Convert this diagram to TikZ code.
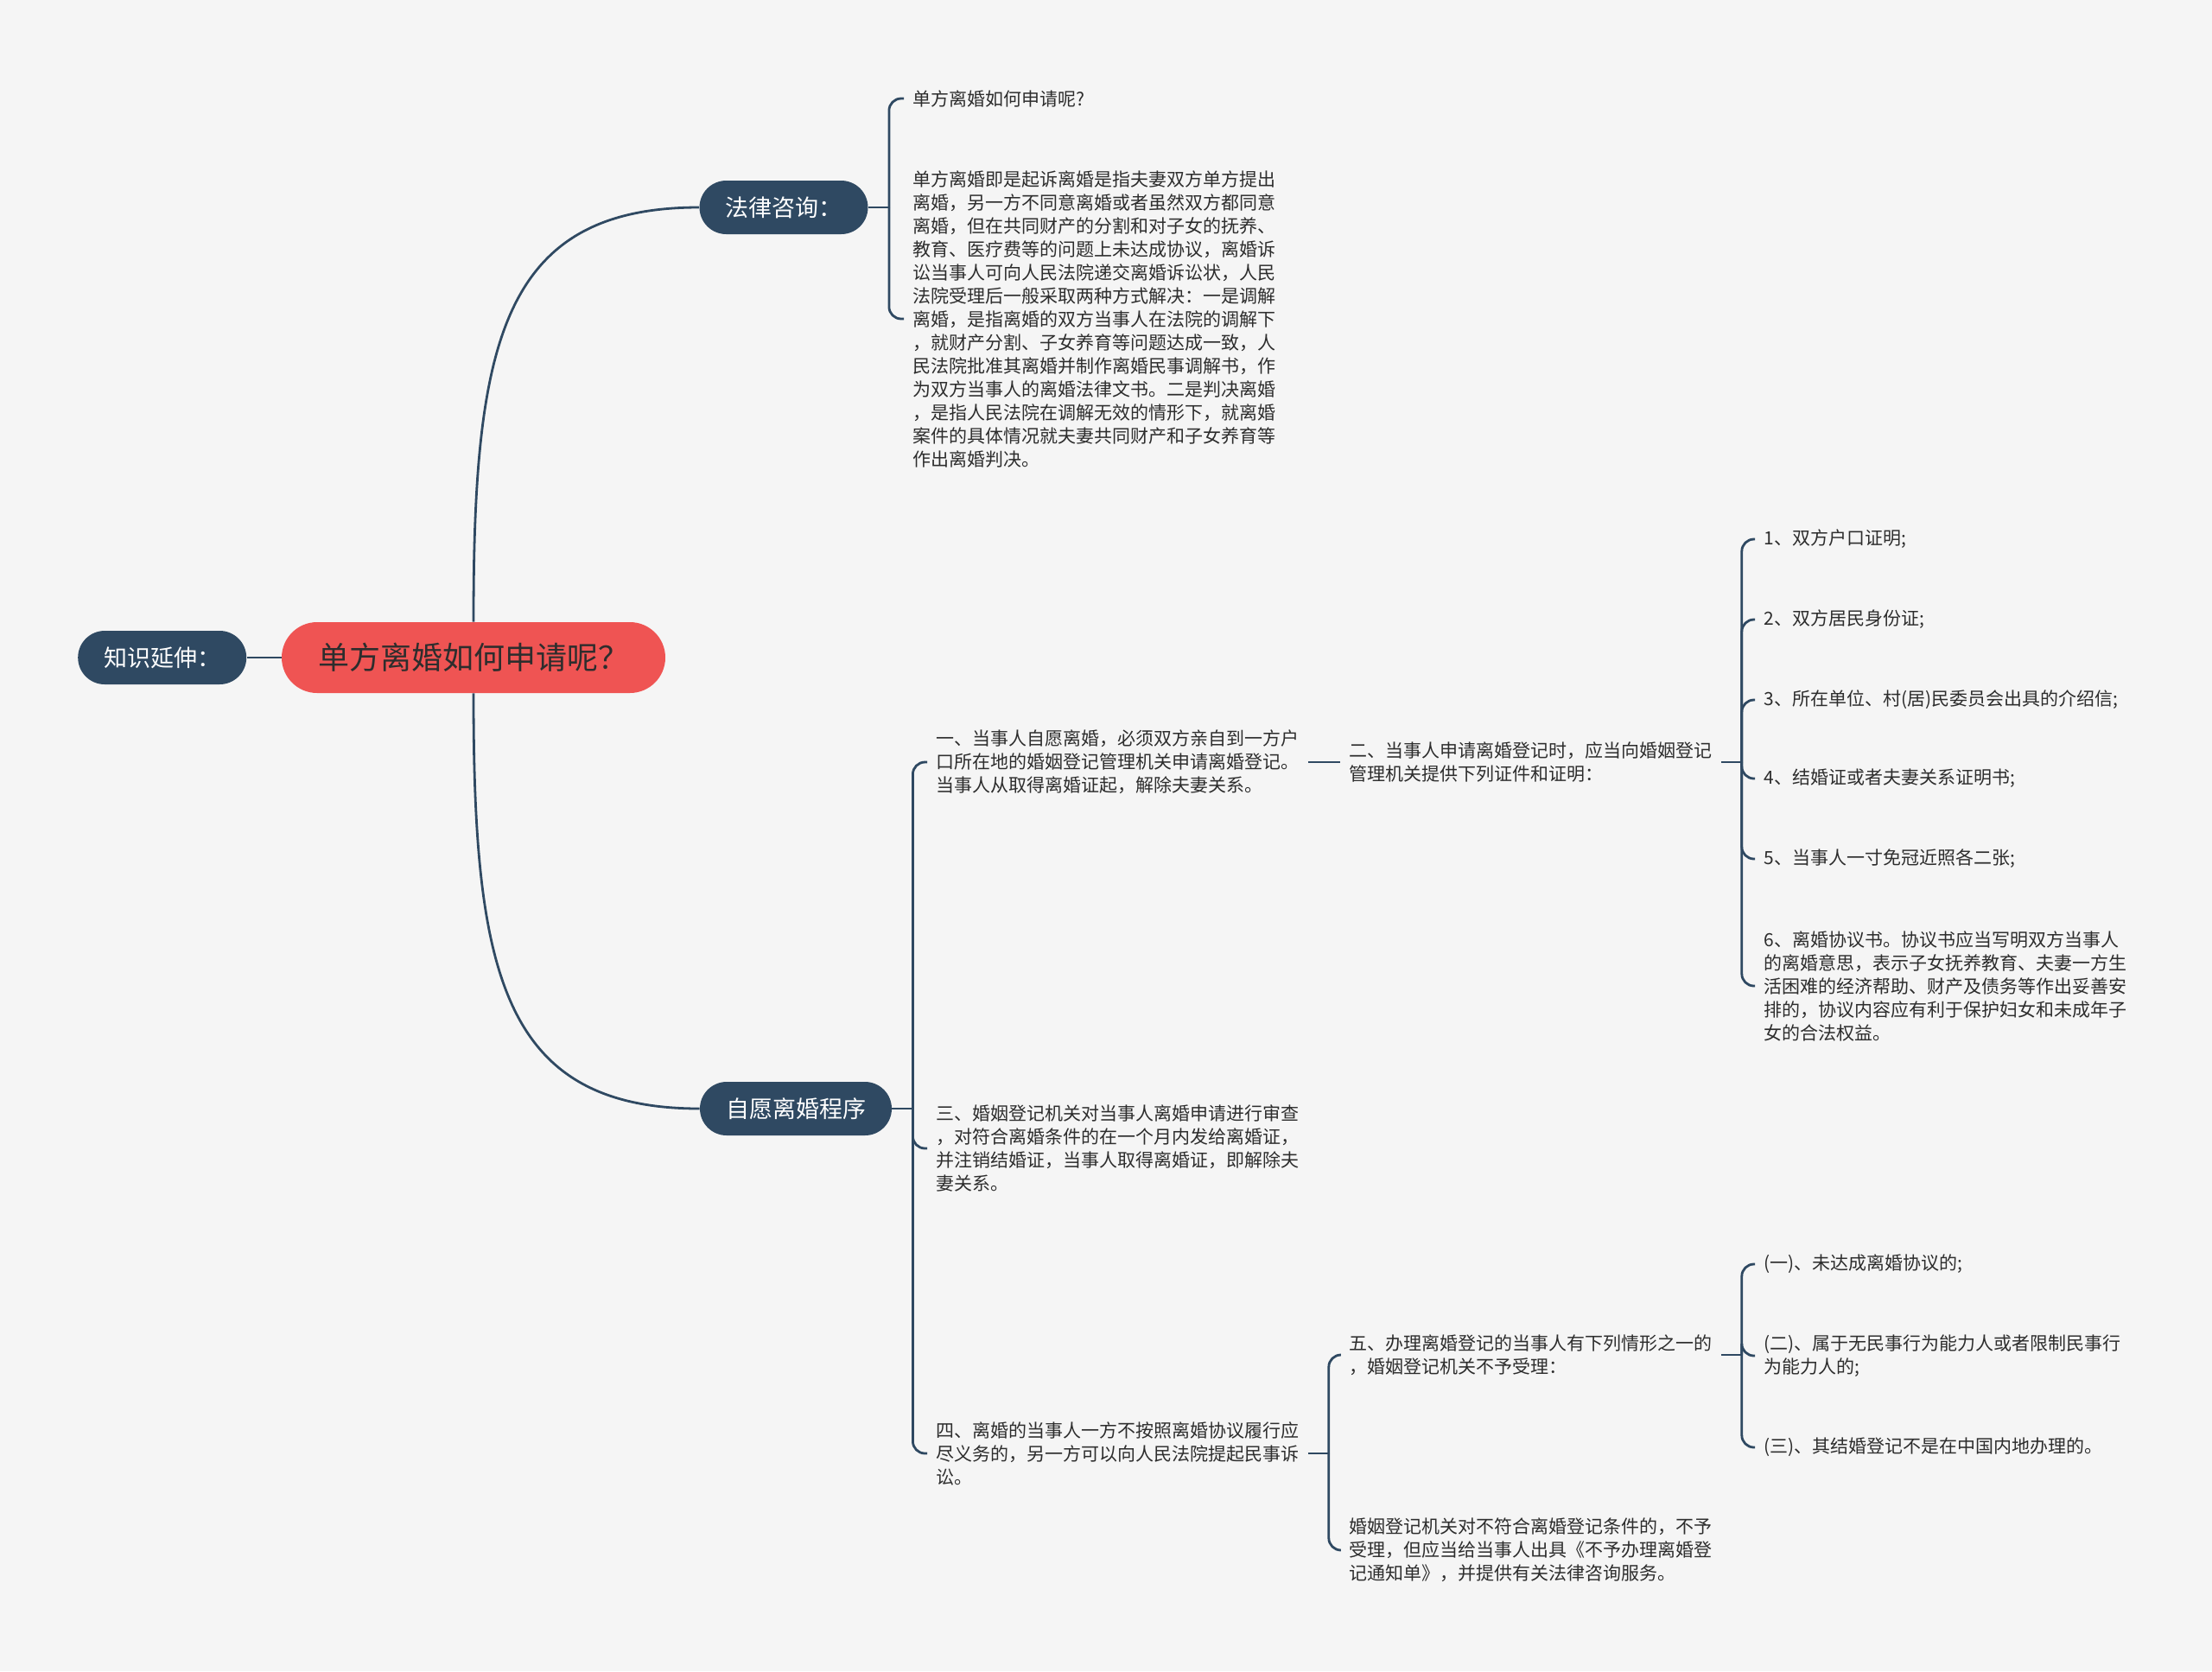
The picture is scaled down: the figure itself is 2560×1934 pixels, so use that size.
\documentclass[tikz,border=0pt]{standalone}
\usepackage{fontspec}
\setmainfont{Noto Sans CJK SC}
\usepackage{tikz}
\usetikzlibrary{positioning, calc}
\usepackage{xcolor}
\definecolor{slate}{RGB}{47,73,98}
\definecolor{rootred}{RGB}{239,84,83}
\definecolor{paper}{RGB}{245,245,245}
\definecolor{ink}{RGB}{45,45,45}

\begin{document}
\begin{tikzpicture}[
    x=0.5pt, y=-0.5pt,
    topic/.style={rectangle, rounded corners=15.5pt, fill=slate, minimum height=31pt, inner xsep=15pt, font=\fontsize{13.5pt}{16pt}\selectfont, text=white},
    central/.style={rectangle, rounded corners=20.5pt, fill=rootred, minimum height=41pt, inner xsep=21pt, font=\fontsize{18pt}{21pt}\selectfont, text=ink},
    leaf/.style={anchor=west, align=left, inner xsep=5pt, inner ysep=0pt, font=\fontsize{10.5pt}{13.5pt}\selectfont, text=ink},
    link/.style={draw=slate, line width=1.4pt, rounded corners=7pt},
]
    \useasboundingbox[fill=paper] (0,0) rectangle (2560,1934);

    % Central topic
    \node[central] (root) at (548,761) {单方离婚如何申请呢？};
    \node[topic, left=20pt of root] (ext) {知识延伸：};

    % Main branches
    \node[topic] (law) at (907,240) {法律咨询：};
    \node[topic] (self) at (921,1283) {自愿离婚程序};

    % Legal consultation
    \node[leaf] (lawq) at (1046,114) {单方离婚如何申请呢?};
    \node[leaf] (lawans) at (1046,369) {单方离婚即是起诉离婚是指夫妻双方单方提出\\离婚，另一方不同意离婚或者虽然双方都同意\\离婚，但在共同财产的分割和对子女的抚养、\\教育、医疗费等的问题上未达成协议，离婚诉\\讼当事人可向人民法院递交离婚诉讼状，人民\\法院受理后一般采取两种方式解决：一是调解\\离婚，是指离婚的双方当事人在法院的调解下\\，就财产分割、子女养育等问题达成一致，人\\民法院批准其离婚并制作离婚民事调解书，作\\为双方当事人的离婚法律文书。二是判决离婚\\，是指人民法院在调解无效的情形下，就离婚\\案件的具体情况就夫妻共同财产和子女养育等\\作出离婚判决。};

    % Voluntary divorce procedure
    \node[leaf] (step1) at (1073,882) {一、当事人自愿离婚，必须双方亲自到一方户\\口所在地的婚姻登记管理机关申请离婚登记。\\当事人从取得离婚证起，解除夫妻关系。};
    \node[leaf] (step3) at (1073,1329) {三、婚姻登记机关对当事人离婚申请进行审查\\，对符合离婚条件的在一个月内发给离婚证，\\并注销结婚证，当事人取得离婚证，即解除夫\\妻关系。};
    \node[leaf] (step4) at (1073,1682) {四、离婚的当事人一方不按照离婚协议履行应\\尽义务的，另一方可以向人民法院提起民事诉\\讼。};

    % Documents to provide
    \node[leaf] (step2) at (1551,882) {二、当事人申请离婚登记时，应当向婚姻登记\\管理机关提供下列证件和证明：};
    \node[leaf] (doc1) at (2031,624) {1、双方户口证明;};
    \node[leaf] (doc2) at (2031,717) {2、双方居民身份证;};
    \node[leaf] (doc3) at (2031,810) {3、所在单位、村(居)民委员会出具的介绍信;};
    \node[leaf] (doc4) at (2031,901) {4、结婚证或者夫妻关系证明书;};
    \node[leaf] (doc5) at (2031,994) {5、当事人一寸免冠近照各二张;};
    \node[leaf] (doc6) at (2031,1141) {6、离婚协议书。协议书应当写明双方当事人\\的离婚意思，表示子女抚养教育、夫妻一方生\\活困难的经济帮助、财产及债务等作出妥善安\\排的，协议内容应有利于保护妇女和未成年子\\女的合法权益。};

    % Refusal cases
    \node[leaf] (step5) at (1551,1568) {五、办理离婚登记的当事人有下列情形之一的\\，婚姻登记机关不予受理：};
    \node[leaf] (refuse) at (1551,1794) {婚姻登记机关对不符合离婚登记条件的，不予\\受理，但应当给当事人出具《不予办理离婚登\\记通知单》，并提供有关法律咨询服务。};
    \node[leaf] (case1) at (2031,1463) {(一)、未达成离婚协议的;};
    \node[leaf] (case2) at (2031,1569) {(二)、属于无民事行为能力人或者限制民事行\\为能力人的;};
    \node[leaf] (case3) at (2031,1675) {(三)、其结婚登记不是在中国内地办理的。};

    % Junctions
    \coordinate[right=12pt of law] (lawj);
    \coordinate[right=12pt of self] (selfj);
    \coordinate[right=12pt of step2] (docj);
    \coordinate[right=12pt of step4] (step4j);
    \coordinate[right=12pt of step5] (casej);

    % Links from the centre
    \draw[link] (ext) -- (root);
    \draw[link] (root.north) .. controls +(0,-320) and +(-230,0) .. (law.west);
    \draw[link] (root.south) .. controls +(0,320) and +(-230,0) .. (self.west);

    % Legal consultation links
    \draw[link] (law) -- (lawj);
    \draw[link] (lawj) |- (lawq.west);
    \draw[link] (lawj) |- (lawans.west);

    % Procedure links
    \draw[link] (self) -- (selfj);
    \draw[link] (selfj) |- (step1.west);
    \draw[link] (selfj) |- (step3.west);
    \draw[link] (selfj) |- (step4.west);
    \draw[link] (step1) -- (step2);

    % Document links
    \draw[link] (step2) -- (docj);
    \draw[link] (docj) |- (doc1.west);
    \draw[link] (docj) |- (doc2.west);
    \draw[link] (docj) |- (doc3.west);
    \draw[link] (docj) |- (doc4.west);
    \draw[link] (docj) |- (doc5.west);
    \draw[link] (docj) |- (doc6.west);

    % Refusal links
    \draw[link] (step4) -- (step4j);
    \draw[link] (step4j) |- (step5.west);
    \draw[link] (step4j) |- (refuse.west);
    \draw[link] (step5) -- (casej);
    \draw[link] (casej) |- (case1.west);
    \draw[link] (casej) |- (case2.west);
    \draw[link] (casej) |- (case3.west);

\end{tikzpicture}
\end{document}
